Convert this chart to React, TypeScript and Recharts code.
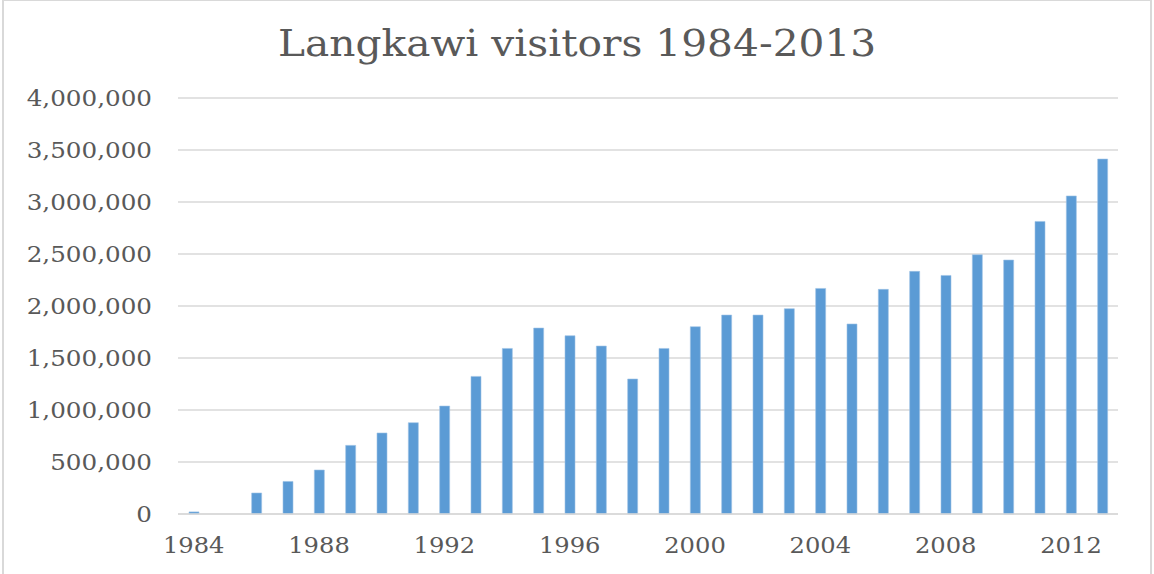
import React from "react";
import { BarChart, Bar, XAxis, YAxis, CartesianGrid } from "recharts";

const years: string[] = [
  "1984", "1985", "1986", "1987", "1988", "1989", "1990", "1991", "1992", "1993",
  "1994", "1995", "1996", "1997", "1998", "1999", "2000", "2001", "2002", "2003",
  "2004", "2005", "2006", "2007", "2008", "2009", "2010", "2011", "2012", "2013",
];

const visitors: number[] = [
  20000, 0, 202000, 313000, 423000, 660000, 779000, 878000, 1038000, 1323000,
  1592000, 1788000, 1714000, 1615000, 1298000, 1592000, 1801000, 1913000, 1913000, 1974000,
  2169000, 1827000, 2160000, 2333000, 2294000, 2493000, 2442000, 2813000, 3058000, 3413000,
];

const yTicks: number[] = [0, 500000, 1000000, 1500000, 2000000, 2500000, 3000000, 3500000, 4000000];

const title = "Langkawi visitors 1984-2013";

const data = years.map((y, i) => ({ year: y, visitors: visitors[i] }));

const FONT = "'DejaVu Serif', serif";
const TEXT_COLOR = "#595959";

const fmt = (v: number) => v.toLocaleString("en-US");

const YTick = (props: any) => {
  const { x, y, payload } = props;
  return (
    <g transform={`translate(${x},${y}) scale(1.12,1)`}>
      <text
        x={0}
        y={0}
        dy="0.36em"
        textAnchor="end"
        fill={TEXT_COLOR}
        fontFamily={FONT}
        fontSize={22}
      >
        {fmt(payload.value)}
      </text>
    </g>
  );
};

const XTick = (props: any) => {
  const { x, y, payload } = props;
  return (
    <g transform={`translate(${x},${y}) scale(1.1,1)`}>
      <text
        x={0}
        y={0}
        dy="0.71em"
        textAnchor="middle"
        fill={TEXT_COLOR}
        fontFamily={FONT}
        fontSize={22}
      >
        {payload.value}
      </text>
    </g>
  );
};

export default function App() {
  return (
    <div style={{ position: "absolute", left: 0, top: 0, width: 1154, height: 574, background: "#fff", overflow: "hidden" }}>
      <div
        style={{
          position: "absolute",
          left: 2,
          top: -1,
          width: 1150,
          height: 590,
          border: "2px solid #d9d9d9",
          boxSizing: "border-box",
        }}
      />
      <div
        style={{
          position: "absolute",
          left: 0,
          top: 19,
          width: 1154,
          textAlign: "center",
          fontFamily: FONT,
          fontSize: 37,
          color: TEXT_COLOR,
          lineHeight: "50px",
          whiteSpace: "nowrap",
          transform: "scaleX(1.1)",
          transformOrigin: "576px 0",
        }}
      >
        {title}
      </div>
      <div style={{ position: "absolute", left: 0, top: 0 }}>
        <BarChart
          width={1154}
          height={574}
          data={data}
          margin={{ top: 98, right: 36, bottom: 0, left: 0 }}
          barSize={10}
        >
          <CartesianGrid vertical={false} stroke="#d9d9d9" strokeWidth={1.4} />
          <XAxis
            dataKey="year"
            interval={3}
            axisLine={{ stroke: "#d9d9d9", strokeWidth: 1.4 }}
            tickLine={false}
            tickMargin={17}
            height={60}
            tick={<XTick />}
          />
          <YAxis
            domain={[0, 4000000]}
            ticks={yTicks}
            axisLine={false}
            tickLine={false}
            tickMargin={20}
            width={178}
            tick={<YTick />}
            interval={0}
          />
          <Bar
            dataKey="visitors"
            fill="#5b9bd5"
            stroke="#9dc3e6"
            strokeWidth={0.6}
            isAnimationActive={false}
          />
        </BarChart>
      </div>
    </div>
  );
}
